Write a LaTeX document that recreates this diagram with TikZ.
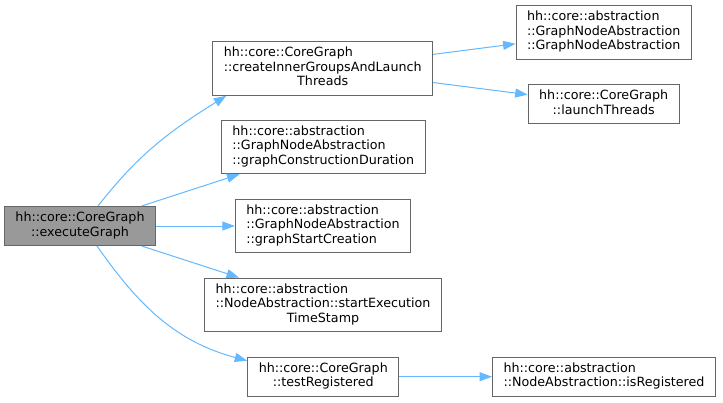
\documentclass[tikz,border=0pt]{standalone}
\usepackage{fontspec}
\setmainfont{DejaVu Sans}
\usepackage{xcolor}
\definecolor{dxgray}{HTML}{666666}
\definecolor{dxroot}{HTML}{999999}
\definecolor{dxedge}{HTML}{63B8FF}
\usetikzlibrary{arrows.meta,positioning}
\newcommand{\fnlines}[1]{\begin{tabular}{@{}l@{}}#1\end{tabular}}
\newcommand{\lastc}[1]{\multicolumn{1}{@{}c@{}}{#1}}
\tikzset{
  fn/.style={draw=dxgray, fill=white, line width=1pt, inner xsep=11pt,
             inner ysep=5pt, font=\fontsize{12.7}{14.5}\selectfont},
  fnroot/.style={fn, fill=dxroot},
  call/.style={-{Triangle[length=12.5pt,width=9pt]}, draw=dxedge, line width=1pt},
}

\begin{document}
\begin{tikzpicture}[x=1pt,y=1pt]
  \useasboundingbox (0,0) rectangle (723,-402);
  \node[fnroot] (exec) at (80,-226) {\fnlines{hh::core::CoreGraph\\\lastc{::executeGraph}}};
  \node[fn] (ci) at (322.7,-68.5) {\fnlines{hh::core::CoreGraph\\::createInnerGroupsAndLaunch\\\lastc{Threads}}};
  \node[fn] (gc) at (323.3,-147) {\fnlines{hh::core::abstraction\\::GraphNodeAbstraction\\::graphConstructionDuration}};
  \node[fn] (gs) at (323,-226) {\fnlines{hh::core::abstraction\\::GraphNodeAbstraction\\::graphStartCreation}};
  \node[fn] (se) at (323,-304.8) {\fnlines{hh::core::abstraction\\::NodeAbstraction::startExecution\\\lastc{TimeStamp}}};
  \node[fn] (tr) at (323.3,-376.7) {\fnlines{hh::core::CoreGraph\\\lastc{::testRegistered}}};
  \node[fn] (gna) at (603.7,-32.5) {\fnlines{hh::core::abstraction\\::GraphNodeAbstraction\\::GraphNodeAbstraction}};
  \node[fn] (lt) at (603.7,-104.3) {\fnlines{hh::core::CoreGraph\\\lastc{::launchThreads}}};
  \node[fn] (ir) at (604,-376.7) {\fnlines{hh::core::abstraction\\::NodeAbstraction::isRegistered}};

  \draw[call] ([xshift=18pt]exec.north) to[out=52,in=-148] ([xshift=14pt]ci.south west);
  \draw[call] (exec) -- (gc);
  \draw[call] (exec) -- (gs);
  \draw[call] (exec) -- (se);
  \draw[call] ([xshift=17pt]exec.south) to[out=-55,in=165] ([yshift=-4pt]tr.north west);
  \draw[call] (ci) -- (gna);
  \draw[call] (ci) -- (lt);
  \draw[call] (tr) -- (ir);
\end{tikzpicture}
\end{document}
